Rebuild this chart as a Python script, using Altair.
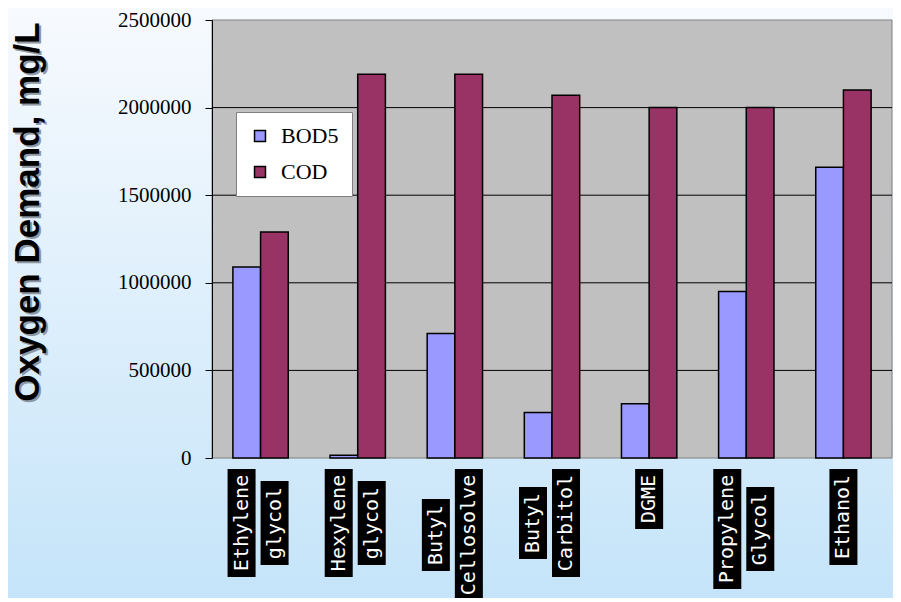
import altair as alt
import pandas as pd

# ---------------- data ----------------
categories = ["Ethylene glycol", "Hexylene glycol", "Butyl Cellosolve",
              "Butyl Carbitol", "DGME", "Propylene Glycol", "Ethanol"]
label_lines = [["Ethylene", "glycol"], ["Hexylene", "glycol"], ["Butyl", "Cellosolve"],
               ["Butyl", "Carbitol"], ["DGME"], ["Propylene", "Glycol"], ["Ethanol"]]
series = ["BOD5", "COD"]
bod5 = [1090000, 15000, 710000, 260000, 310000, 950000, 1660000]
cod = [1290000, 2190000, 2190000, 2070000, 2000000, 2000000, 2100000]
y_ticks = [0, 500000, 1000000, 1500000, 2000000, 2500000]
y_title = "Oxygen Demand, mg/L"

# ---------------- layout ----------------
W, H = 680, 438
TOP_PAD = 12
CW = 12  # label advance per character (DejaVu Sans Mono 20)
SERIF = "Liberation Serif, DejaVu Serif, serif"

bars_df = pd.DataFrame({
    "cat": categories * 2,
    "series": [series[0]] * len(categories) + [series[1]] * len(categories),
    "value": bod5 + cod,
})

rows = []
for cat, lines in zip(categories, label_lines):
    maxn = max(len(s) for s in lines)
    for i, s in enumerate(lines):
        kind = "single" if len(lines) == 1 else ("first" if i == 0 else "second")
        rows.append({"cat": cat, "text": s, "kind": kind, "n": len(s), "maxn": maxn})
lab_df = pd.DataFrame(rows)
grid_df = pd.DataFrame({"v": y_ticks[1:-1]})
one = pd.DataFrame({"a": [0]})

xscale = alt.Scale(paddingInner=0.43, paddingOuter=0.215)
yscale = alt.Scale(domain=[y_ticks[0], y_ticks[-1]], nice=False)
pix = alt.Scale(domain=[0, 1000], range=[0, 1000], zero=False, nice=False)

grad = alt.Chart(one).mark_rect(
    fill=alt.Gradient(gradient="linear",
                      stops=[alt.GradientStop(color="#F7FAFE", offset=0),
                             alt.GradientStop(color="#C5E4F9", offset=1)],
                      x1=0, x2=0, y1=0, y2=1)
).encode(x=alt.value(-204), x2=alt.value(W + 1), y=alt.value(-TOP_PAD), y2=alt.value(H + 140))

plotbg = alt.Chart(one).mark_rect(fill="#C0C0C0", stroke="#808080", strokeWidth=1).encode(
    x=alt.value(0), x2=alt.value(W), y=alt.value(0), y2=alt.value(H))

grid = alt.Chart(grid_df).mark_rule(color="black", strokeWidth=1).encode(
    y=alt.Y("v:Q", scale=yscale, axis=None), x=alt.value(0), x2=alt.value(W))

bars = alt.Chart(bars_df).mark_bar(stroke="black", strokeWidth=1.5).encode(
    x=alt.X("cat:N", sort=categories, scale=xscale,
            axis=alt.Axis(title=None, labels=False, tickBand="extent", tickSize=6,
                          tickColor="black", domainColor="black", grid=False, zindex=1)),
    xOffset=alt.XOffset("series:N", sort=series, scale=alt.Scale(paddingInner=0, paddingOuter=0)),
    y=alt.Y("value:Q", scale=yscale,
            axis=alt.Axis(title=None, values=y_ticks, format="d", grid=False,
                          labelFont=SERIF, labelFontSize=21, labelColor="black",
                          labelPadding=14, tickSize=7, tickColor="black",
                          domainColor="black", zindex=1)),
    color=alt.Color("series:N", sort=series,
                    scale=alt.Scale(domain=series, range=["#9999FF", "#993366"]),
                    legend=alt.Legend(title=None, orient="none", legendX=24, legendY=92,
                                      fillColor="white", strokeColor="#808080", padding=13,
                                      symbolType="square", symbolSize=120,
                                      symbolStrokeColor="black", symbolStrokeWidth=1.5,
                                      labelFont=SERIF, labelFontSize=22,
                                      labelColor="black", rowPadding=14, labelOffset=10)),
)


def label_layers(kind, bp):
    base = alt.Chart(lab_df).transform_filter(alt.datum.kind == kind).transform_calculate(
        L=f"datum.n*{CW}+12",
        c=f"{H + 11} + (datum.maxn*{CW}+12)/2",
    ).transform_calculate(
        y1="datum.c - datum.L/2", y2="datum.c + datum.L/2"
    )
    xenc = alt.X("cat:N", sort=categories, scale=xscale, bandPosition=bp, axis=None)
    box = base.mark_rule(color="black", strokeWidth=28, strokeCap="butt").encode(
        x=xenc, y=alt.Y("y1:Q", scale=pix, axis=None), y2="y2:Q")
    txt = base.mark_text(angle=270, align="center", baseline="middle",
                         font="DejaVu Sans Mono", fontSize=20, color="white").encode(
        x=xenc, y=alt.Y("c:Q", scale=pix, axis=None), text="text:N")
    return [box, txt]


labels = label_layers("first", 0.157) + label_layers("second", 0.753) + label_layers("single", 0.5)

TX, TY = -173, 192
tshadow = alt.Chart(one).mark_text(text=y_title, angle=270, align="center", baseline="alphabetic",
                                   font="Liberation Sans", fontWeight="bold", fontSize=35,
                                   color="#8E98A4").encode(x=alt.value(TX + 2), y=alt.value(TY + 2))
tmain = alt.Chart(one).mark_text(text=y_title, angle=270, align="center", baseline="alphabetic",
                                 font="Liberation Sans", fontWeight="bold", fontSize=35,
                                 color="black").encode(x=alt.value(TX), y=alt.value(TY))

chart = alt.layer(grad, plotbg, grid, bars, *labels, tshadow, tmain).resolve_scale(
    y="independent"
).properties(
    width=W, height=H,
    autosize=alt.AutoSizeParams(type="none"),
    padding={"left": 204, "top": TOP_PAD, "right": 1, "bottom": 140},
).configure_view(stroke=None)

chart.save("out.html", embed_options={"renderer": "svg", "actions": False})
